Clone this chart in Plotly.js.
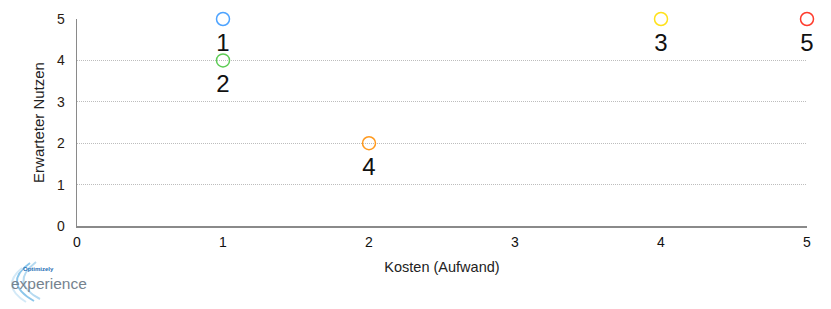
<!DOCTYPE html>
<html><head><meta charset="utf-8">
<script src="https://cdn.plot.ly/plotly-3.0.1.min.js"></script>
<style>html,body{margin:0;padding:0;background:#fff}#c{width:831px;height:309px}</style>
</head><body><div id="c"></div>
<script>
const kosten = [1, 1, 4, 2, 5];
const nutzen = [5, 4, 5, 2, 5];
const labels = ['1', '2', '3', '4', '5'];
const colors = ['#4da3ff', '#5dcc55', '#ffe11a', '#ff9a1f', '#ff3b2c'];
const tickVals = [0, 1, 2, 3, 4, 5];

const font = 'Liberation Sans, Arial, sans-serif';
// pixel -> paper helpers for the logo decoration
const L = 77, T = 19, W = 730, H = 207;
const px = v => (v - L) / W;
const py = v => (T + H - v) / H;
function arc(x0, y0, cx, cy, x1, y1) {
  return `M ${px(x0)} ${py(y0)} Q ${px(cx)} ${py(cy)} ${px(x1)} ${py(y1)}`;
}

Plotly.newPlot('c', [{
  type: 'scatter', mode: 'markers',
  x: kosten, y: nutzen,
  marker: {symbol: 'circle-open', size: 13, color: colors, line: {width: 1.5}},
  cliponaxis: false, hoverinfo: 'none'
}, {
  type: 'scatter', mode: 'markers+text',
  x: kosten, y: nutzen, text: labels,
  textposition: 'bottom center',
  textfont: {family: font, size: 24, color: '#111'},
  marker: {size: 20, opacity: 0, color: '#fff'},
  cliponaxis: false, hoverinfo: 'none'
}], {
  width: 831, height: 309,
  margin: {l: 77, r: 24, t: 19, b: 83},
  paper_bgcolor: '#fff', plot_bgcolor: '#fff',
  showlegend: false,
  font: {family: font, color: '#222'},
  xaxis: {range: [0, 5], tickvals: tickVals, showgrid: false, zeroline: false,
    showline: true, linecolor: '#8a8a8a', linewidth: 1.5, ticks: '',
    tickfont: {size: 14, color: '#111'}, ticklabelstandoff: 3,
    title: {text: 'Kosten (Aufwand)', font: {size: 14.5, color: '#222'}, standoff: 12}},
  yaxis: {range: [0, 5], tickvals: tickVals, showgrid: true, gridcolor: '#bdbdbd', griddash: '1px,1px', gridwidth: 1,
    zeroline: false, showline: true, linecolor: '#8a8a8a', linewidth: 1.5, ticks: '',
    tickfont: {size: 14, color: '#2a1a10'}, ticklabelstandoff: 8,
    title: {text: 'Erwarteter Nutzen', font: {size: 15, color: '#222'}, standoff: 8}},
  annotations: [
    {xref: 'paper', yref: 'paper', x: px(9), y: py(283), xanchor: 'left', yanchor: 'middle', showarrow: false,
     text: 'experience', font: {family: font, size: 15.5, color: '#76838f'}},
    {xref: 'paper', yref: 'paper', x: px(21), y: py(269), xanchor: 'left', yanchor: 'middle', showarrow: false,
     text: '<b>Optimizely</b>', font: {family: font, size: 6, color: '#1f6fb5'}}
  ],
  shapes: [
    {type: 'path', xref: 'paper', yref: 'paper', line: {color: '#8cc6ea', width: 2}, path: arc(30, 263, 2, 283, 34, 301)},
    {type: 'path', xref: 'paper', yref: 'paper', line: {color: '#b5daf1', width: 2}, path: arc(36, 262, 9, 283, 40, 299)},
    {type: 'path', xref: 'paper', yref: 'paper', line: {color: '#d3e9f7', width: 2}, path: arc(22, 268, 0, 286, 26, 302)}
  ]
}, {displayModeBar: false, staticPlot: true});
</script></body></html>
